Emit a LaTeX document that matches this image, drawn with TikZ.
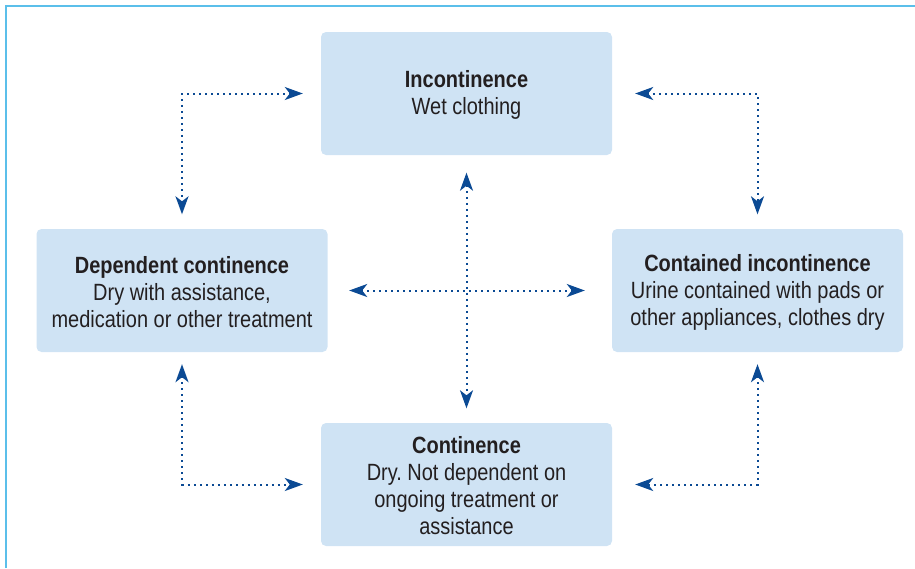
\documentclass[tikz,border=0pt]{standalone}
\usepackage{fontspec}
\setmainfont[FakeStretch=0.85]{Liberation Sans}
\usetikzlibrary{arrows.meta}
\frenchspacing
\definecolor{framecol}{HTML}{5BBFEA}
\definecolor{boxfill}{HTML}{CFE3F4}
\definecolor{linkcol}{HTML}{0B4A94}
\definecolor{textcol}{HTML}{231F20}
\begin{document}
\begin{tikzpicture}[x=1pt,y=-1pt,
  state/.style={fill=boxfill, rounded corners=5pt, minimum width=291pt,
    minimum height=123pt, inner sep=0pt},
  caption/.style={inner sep=0pt, align=center, text=textcol,
    font=\fontsize{23.5}{27}\selectfont},
  link/.style={draw=linkcol, line width=2pt, dash pattern=on 2pt off 4pt,
    {Stealth[length=18pt,width=13pt,inset=5pt]}-{Stealth[length=18pt,width=13pt,inset=5pt]}}]
\useasboundingbox (0,0) rectangle (915,568);
% open frame along the top and left edges
\draw[framecol, line width=2pt] (6,568) -- (6,6) -- (915,6);
% the four states
\node[state] (top) at (466.5,93.5) {};
\node[state] (left) at (182,290.5) {};
\node[state] (right) at (757.5,290.5) {};
\node[state] (bottom) at (466.5,484.5) {};
\node[caption] (top-text) at ([yshift=-1.5pt]top.center) {\textbf{Incontinence}\\Wet clothing};
\node[caption] (left-text) at ([yshift=-1.5pt]left.center) {\textbf{Dependent continence}\\Dry with assistance,\\medication or other treatment};
\node[caption] (right-text) at ([yshift=-1.5pt]right.center) {\textbf{Contained incontinence}\\Urine contained with pads or\\other appliances, clothes dry};
\node[caption] (bottom-text) at ([yshift=-1.5pt]bottom.center) {\textbf{Continence}\\Dry. Not dependent on\\ongoing treatment or\\assistance};
% corner links
\draw[link] ([xshift=-18pt]top.west) -| ([yshift=14.5pt]left.north);
\draw[link] ([xshift=23pt]top.east) -| ([yshift=14.5pt]right.north);
\draw[link] ([yshift=-12pt]left.south) |- ([xshift=-18pt]bottom.west);
\draw[link] ([yshift=-12pt]right.south) |- ([xshift=23pt]bottom.east);
% central cross
\draw[link] ([yshift=-17.5pt]top.south) -- ([yshift=14.5pt]bottom.north);
\draw[link] ([xshift=21.5pt]left.east) -- ([xshift=-27pt]right.west);
\end{tikzpicture}
\end{document}
